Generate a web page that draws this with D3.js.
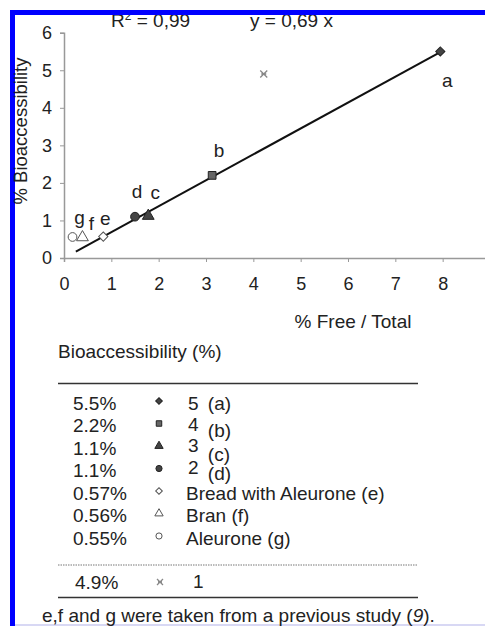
<!DOCTYPE html>
<html><head><meta charset="utf-8">
<script src="https://cdn.jsdelivr.net/npm/d3@7"></script>
<style>
html,body{margin:0;padding:0;background:#fff;}
svg{display:block;font-family:"Liberation Sans",Arial,sans-serif;}
</style></head>
<body>
<svg id="c" width="485" height="626"></svg>
<script>
// ---- data ----
const categories = ["a","b","c","d","e","f","g"];
const freeTotal  = [7.95, 3.13, 1.78, 1.50, 0.83, 0.39, 0.18];
const bioacc     = [5.50, 2.20, 1.12, 1.10, 0.57, 0.55, 0.56];
const filled     = [true, true, true, true, false, false, false];
const symbolsIdx = ["diamond","square","triangle","circle","diamond","triangle","circle"];
const outlierX = [4.22];
const outlierY = [4.9];
const xTicks = [0,1,2,3,4,5,6,7,8];
const yTicks = [0,1,2,3,4,5,6];
const slope = 0.69;
const fitRange = [0.25, 7.95];
const tablePct = ["5.5%","2.2%","1.1%","1.1%","0.57%","0.56%","0.55%"];
const tableName = ["5","4","3","2","Bread with Aleurone","Bran","Aleurone"];
const tableTag  = ["(a)","(b)","(c)","(d)","(e)","(f)","(g)"];
const extraPct = ["4.9%"];
const extraName = ["1"];

// ---- layout ----
const svg = d3.select("#c");
const ink = "#222";
const FS = 19;

const x = d3.scaleLinear().domain([0,9]).range([64,490]);
const y = d3.scaleLinear().domain([0,6]).range([258,32.7]);

// equation texts (partly hidden by border, drawn first)
svg.append("text").attr("x",111).attr("y",27).attr("font-size",FS).attr("fill",ink)
  .html('R<tspan font-size="12" dy="-7">2</tspan><tspan dy="7"> = 0,99</tspan>');
svg.append("text").attr("x",250).attr("y",27).attr("font-size",FS).attr("fill",ink).text("y = 0,69 x");

// border
svg.append("rect").attr("x",10).attr("y",10).attr("width",475).attr("height",5).attr("fill","#0000ff");
svg.append("rect").attr("x",10).attr("y",10).attr("width",5).attr("height",616).attr("fill","#0000ff");
svg.append("rect").attr("x",15).attr("y",624).attr("width",470).attr("height",2).attr("fill","#d8d8f4");

const gx = svg.append("g").attr("transform","translate(0,258)")
  .call(d3.axisBottom(x).tickValues(xTicks).tickSize(4).tickPadding(15).tickFormat(d3.format("d")));
const gy = svg.append("g").attr("transform","translate(64,0)")
  .call(d3.axisLeft(y).tickValues(yTicks).tickSize(4).tickPadding(8).tickFormat(d3.format("d")));
[gx,gy].forEach(g=>{
  g.select(".domain").attr("stroke","#999").attr("stroke-width",1.5);
  g.selectAll(".tick line").attr("stroke","#999");
  g.selectAll("text").attr("font-size",18).attr("fill",ink).attr("font-family","Liberation Sans, Arial, sans-serif");
});

// axis titles
svg.append("text").attr("x",353).attr("y",328).attr("text-anchor","middle")
  .attr("font-size",FS).attr("fill",ink).text("% Free / Total");
svg.append("text").attr("transform","translate(27,131) rotate(-90)").attr("text-anchor","middle")
  .attr("font-size",18.5).attr("fill",ink).text("% Bioaccessibility");

// regression line
svg.append("line")
  .attr("x1",x(fitRange[0])).attr("y1",y(slope*fitRange[0]))
  .attr("x2",x(fitRange[1])).attr("y2",y(slope*fitRange[1]))
  .attr("stroke","#111").attr("stroke-width",2);

const symMap = {diamond:d3.symbolSquare, square:d3.symbolSquare, triangle:d3.symbolTriangle, circle:d3.symbolCircle};
function drawSym(g, i, cx, cy, size){
  const s = d3.symbol().type(symMap[symbolsIdx[i]]).size(size)();
  const rot = symbolsIdx[i]==="diamond" ? " rotate(45)" : "";
  g.append("path").attr("d",s).attr("transform",`translate(${cx},${cy})${rot}`)
    .attr("fill", filled[i] ? (symbolsIdx[i]==="square" ? "#666" : "#444") : "#fff")
    .attr("stroke", filled[i] ? "#222" : "#555").attr("stroke-width",1);
}
function drawX(g, cx, cy, r){
  g.append("path").attr("d",`M${-r},${-r}L${r},${r}M${-r},${r}L${r},${-r}M${-r+1},0L${r-1},0`)
    .attr("transform",`translate(${cx},${cy})`).attr("stroke","#888").attr("stroke-width",1.3).attr("fill","none");
}

const pts = svg.append("g");
categories.forEach((c,i)=> drawSym(pts, i, x(freeTotal[i]), y(bioacc[i]), symbolsIdx[i]==="diamond" ? 42 : 60));
outlierX.forEach((v,i)=> drawX(pts, x(v), y(outlierY[i]), 3.5));

// point labels
const labelOffsets = [[7,29],[7,-25],[7,-24],[2,-25],[2,-18],[9,-14],[7,-20]];
categories.forEach((c,i)=>{
  svg.append("text").attr("x",x(freeTotal[i])+labelOffsets[i][0]).attr("y",y(bioacc[i])+labelOffsets[i][1])
    .attr("dy","0.35em").attr("text-anchor","middle").attr("font-size",FS).attr("fill",ink).text(c);
});

// table
svg.append("text").attr("x",58).attr("y",358).attr("font-size",FS).attr("fill",ink).text("Bioaccessibility (%)");
svg.append("line").attr("x1",58).attr("x2",418).attr("y1",383.5).attr("y2",383.5).attr("stroke","#333").attr("stroke-width",1.5);
const rowY = d3.scalePoint().domain(d3.range(tablePct.length)).range([403,538]);
const tagShift = [0,5,6,3,0,0,0];
const nameShift = [0,-1,-3,-3,0,0,0];
tablePct.forEach((p,i)=>{
  const cy = rowY(i);
  svg.append("text").attr("x",73).attr("y",cy).attr("dy","0.35em").attr("font-size",FS).attr("fill",ink).text(p);
  drawSym(svg, i, 159, cy-2, symbolsIdx[i]==="diamond" ? 22 : 30);
  const t = svg.append("text").attr("x", i>=4 ? 186 : 188).attr("y",cy+nameShift[i]).attr("dy","0.35em").attr("font-size",FS).attr("fill",ink);
  t.append("tspan").text(tableName[i]+" ");
  t.append("tspan").attr("dy",(tagShift[i]-nameShift[i])+"").attr("dx", i<4 ? 4 : 0).text(tableTag[i]);
});
svg.append("line").attr("x1",58).attr("x2",418).attr("y1",565).attr("y2",565).attr("stroke","#777").attr("stroke-width",1).attr("stroke-dasharray","1.5,1");
extraPct.forEach((p,i)=>{
  svg.append("text").attr("x",75).attr("y",582).attr("dy","0.35em").attr("font-size",FS).attr("fill",ink).text(p);
  drawX(svg, 160, 582, 3);
  svg.append("text").attr("x",193).attr("y",581).attr("dy","0.35em").attr("font-size",FS).attr("fill",ink).text(extraName[i]);
});
svg.append("line").attr("x1",58).attr("x2",418).attr("y1",597.5).attr("y2",597.5).attr("stroke","#333").attr("stroke-width",1.5);
svg.append("text").attr("x",42).attr("y",622).attr("font-size",FS).attr("fill",ink)
  .html('e,f and g were taken from a previous study (<tspan font-style="italic">9</tspan>).');
</script>
</body></html>
